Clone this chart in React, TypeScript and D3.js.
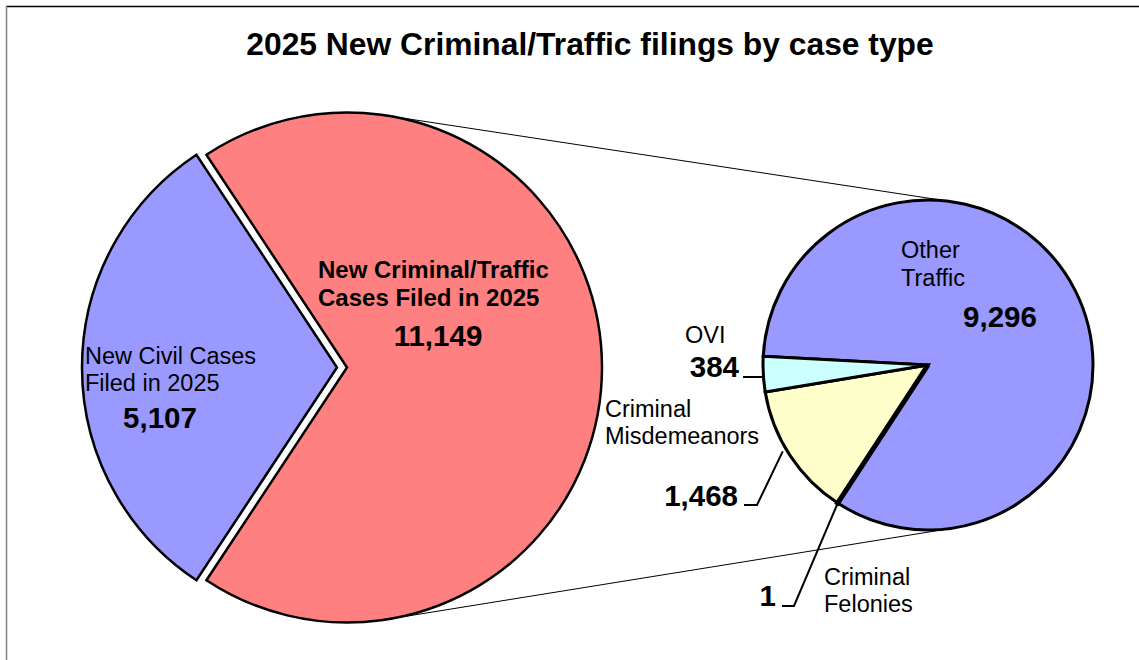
import React from "react";
import * as d3 from "d3";

// ---- data ----
const mainCategories = ["New Criminal/Traffic Cases Filed in 2025", "New Civil Cases Filed in 2025"];
const mainValues = [11149, 5107];
const mainColors = ["#FF8080", "#9999FF"];

const subCategories = ["Other Traffic", "Criminal Felonies", "Criminal Misdemeanors", "OVI"];
const subValues = [9296, 1, 1468, 384];
const subColors = ["#9999FF", "#993366", "#FFFFCC", "#CCFFFF"];

const title = "2025 New Criminal/Traffic filings by case type";
const fmt = d3.format(",");

const W = 1139;
const H = 660;
const FONT = "'Liberation Sans', Arial, Helvetica, sans-serif";
const LBL = 23.5;
const NUM = 29.5;

export default function App() {
  const deg = Math.PI / 180;

  // main pie
  const c1 = { x: 347, y: 367.5 };
  const r1 = 255;
  const mainTotal = d3.sum(mainValues);
  const redSpan = (mainValues[0] / mainTotal) * 2 * Math.PI;
  const mainPie = d3
    .pie<number>()
    .sort(null)
    .startAngle(Math.PI / 2 - redSpan / 2)
    .endAngle(Math.PI / 2 - redSpan / 2 + 2 * Math.PI)(mainValues);
  const mainArc = d3.arc<d3.PieArcDatum<number>>().innerRadius(0).outerRadius(r1);
  const explode = [0, 10];

  // sub pie
  const c2 = { x: 928, y: 365 };
  const r2 = 165;
  const subStart = -87 * deg;
  const subPie = d3
    .pie<number>()
    .sort(null)
    .startAngle(subStart)
    .endAngle(subStart + 2 * Math.PI)(subValues);
  const subArc = d3.arc<d3.PieArcDatum<number>>().innerRadius(0).outerRadius(r2);
  const subStroke = [3, 5, 3, 3];
  const drawOrder = [0, 2, 3, 1];

  // external tangent lines between circles
  const dx = c2.x - c1.x;
  const dy = c2.y - c1.y;
  const d = Math.hypot(dx, dy);
  const base = Math.atan2(dy, dx);
  const th = Math.acos((r1 - r2) / d);
  const tangents = [base - th, base + th].map((a) => [
    [c1.x + r1 * Math.cos(a), c1.y + r1 * Math.sin(a)],
    [c2.x + r2 * Math.cos(a), c2.y + r2 * Math.sin(a)],
  ]);
  const line = d3.line();

  const pt = (a: number, r: number, c: { x: number; y: number }) => [
    c.x + r * Math.sin(a),
    c.y - r * Math.cos(a),
  ];

  // leader anchor points on sub pie
  const ovi = subPie[3];
  const mis = subPie[2];
  const fel = subPie[1];
  const oviEdge = pt((ovi.startAngle + ovi.endAngle) / 2, r2, c2);
  const misEdge = pt(mis.startAngle + (mis.endAngle - mis.startAngle) * 0.55, r2 + 4, c2);
  const felEdge = pt(fel.startAngle, r2, c2);

  return (
    <svg
      width={W}
      height={H}
      style={{ position: "absolute", left: 0, top: 0, background: "#fff" }}
      fontFamily={FONT}
    >
      <rect x={0} y={0} width={W} height={H} fill="#fff" />
      {/* frame */}
      <line x1={6} y1={6.5} x2={W} y2={6.5} stroke="#000" strokeWidth={1.5} />
      <line x1={6.5} y1={6} x2={6.5} y2={H} stroke="#808080" strokeWidth={1.5} />

      <text x={590} y={55} textAnchor="middle" fontSize={31.8} fontWeight="bold">
        {title}
      </text>

      {/* connector lines */}
      {tangents.map((t, i) => (
        <path key={i} d={line(t as [number, number][]) || ""} stroke="#000" strokeWidth={1} fill="none" />
      ))}

      {/* main pie */}
      {mainPie.map((p, i) => {
        const mid = (p.startAngle + p.endAngle) / 2;
        const ox = c1.x + explode[i] * Math.sin(mid);
        const oy = c1.y - explode[i] * Math.cos(mid);
        return (
          <path
            key={i}
            d={mainArc(p) || ""}
            transform={`translate(${ox},${oy})`}
            fill={mainColors[i]}
            stroke="#000"
            strokeWidth={2.5}
            strokeLinejoin="miter"
          />
        );
      })}

      {/* sub pie */}
      {drawOrder.map((i) => (
        <path
          key={i}
          d={subArc(subPie[i]) || ""}
          transform={`translate(${c2.x},${c2.y})`}
          fill={subColors[i]}
          stroke="#000"
          strokeWidth={subStroke[i]}
          strokeLinejoin="miter"
        />
      ))}

      {/* main labels */}
      <text fontSize={24} fontWeight="bold">
        <tspan x={318} y={278}>New Criminal/Traffic</tspan>
        <tspan x={318} y={306}>Cases Filed in 2025</tspan>
      </text>
      <text x={438} y={346} textAnchor="middle" fontSize={NUM} fontWeight="bold">
        {fmt(mainValues[0])}
      </text>

      <text fontSize={LBL}>
        <tspan x={85} y={364}>New Civil Cases</tspan>
        <tspan x={85} y={391}>Filed in 2025</tspan>
      </text>
      <text x={160} y={428} textAnchor="middle" fontSize={NUM} fontWeight="bold">
        {fmt(mainValues[1])}
      </text>

      {/* sub labels */}
      <text fontSize={LBL}>
        <tspan x={901} y={258}>Other</tspan>
        <tspan x={901} y={286}>Traffic</tspan>
      </text>
      <text x={1000} y={327} textAnchor="middle" fontSize={NUM} fontWeight="bold">
        {fmt(subValues[0])}
      </text>

      <text x={685} y={343} fontSize={LBL}>OVI</text>
      <text x={739} y={377} textAnchor="end" fontSize={NUM} fontWeight="bold">
        {fmt(subValues[3])}
      </text>
      <path
        d={line([[743, 377], [oviEdge[0], 377]] as [number, number][]) || ""}
        stroke="#000"
        strokeWidth={2}
        fill="none"
      />

      <text fontSize={LBL}>
        <tspan x={605} y={417}>Criminal</tspan>
        <tspan x={605} y={444}>Misdemeanors</tspan>
      </text>
      <text x={738} y={506} textAnchor="end" fontSize={NUM} fontWeight="bold">
        {fmt(subValues[2])}
      </text>
      <path
        d={line([[744, 505], [757, 505], [misEdge[0], misEdge[1]]] as [number, number][]) || ""}
        stroke="#000"
        strokeWidth={2}
        fill="none"
      />

      <text x={776} y={606} textAnchor="end" fontSize={NUM} fontWeight="bold">
        {fmt(subValues[1])}
      </text>
      <path
        d={line([[782, 606], [794, 606], [felEdge[0], felEdge[1]]] as [number, number][]) || ""}
        stroke="#000"
        strokeWidth={2}
        fill="none"
      />
      <text fontSize={LBL}>
        <tspan x={824} y={585}>Criminal</tspan>
        <tspan x={824} y={612}>Felonies</tspan>
      </text>
    </svg>
  );
}
